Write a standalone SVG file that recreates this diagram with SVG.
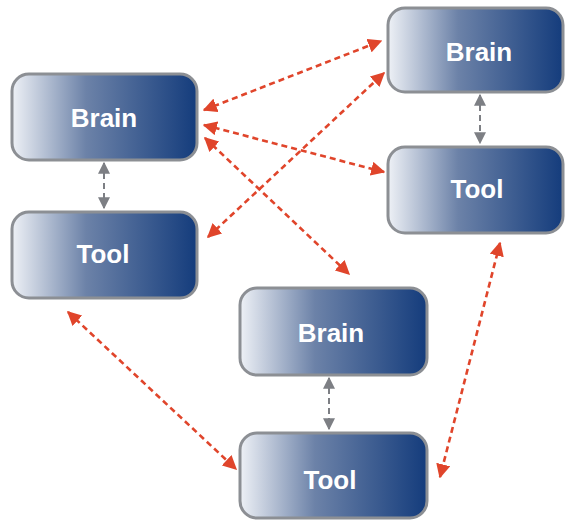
<svg xmlns="http://www.w3.org/2000/svg" width="566" height="524" viewBox="0 0 566 524">
  <style>
    .box { fill: url(#boxFill); stroke: #8c8f94; stroke-width: 3; }
    .label { font-family: "Liberation Sans", Arial, sans-serif; font-weight: bold; font-size: 26px; fill: #ffffff; text-anchor: middle; }
    .link { stroke: #e0452b; stroke-width: 2.6; stroke-dasharray: 6 4; fill: none; marker-start: url(#redHead); marker-end: url(#redHead); }
    .pair { stroke: #7d7f84; stroke-width: 2; stroke-dasharray: 6 4; fill: none; marker-start: url(#grayHead); marker-end: url(#grayHead); }
  </style>
  <defs>
    <linearGradient id="boxFill" x1="0" y1="0" x2="1" y2="0">
      <stop offset="0" stop-color="#eef1f6"/>
      <stop offset="0.4" stop-color="#6c82a8"/>
      <stop offset="1" stop-color="#143c7c"/>
    </linearGradient>
    <marker id="redHead" viewBox="0 0 10 10" refX="9" refY="5" markerWidth="5.5" markerHeight="5.5" orient="auto-start-reverse" markerUnits="strokeWidth">
      <path d="M0,0 L10,5 L0,10 z" fill="#e0452b"/>
    </marker>
    <marker id="grayHead" viewBox="0 0 10 10" refX="9" refY="5" markerWidth="6" markerHeight="6" orient="auto-start-reverse" markerUnits="strokeWidth">
      <path d="M0,0 L10,5 L0,10 z" fill="#7d7f84"/>
    </marker>
  </defs>

  <rect width="566" height="524" fill="#ffffff"/>

  <!-- connectors -->
  <g id="connectors">
    <line class="link" x1="204" y1="110" x2="381" y2="41"/>
    <line class="link" x1="204" y1="125" x2="384" y2="172"/>
    <line class="link" x1="205" y1="138" x2="349" y2="274"/>
    <line class="link" x1="208" y1="237" x2="384" y2="73"/>
    <line class="link" x1="68" y1="312" x2="236" y2="469"/>
    <line class="link" x1="500" y1="243" x2="440" y2="477"/>
    <line class="pair" x1="104" y1="163" x2="104" y2="208"/>
    <line class="pair" x1="480" y1="95" x2="480" y2="143"/>
    <line class="pair" x1="329" y1="378" x2="329" y2="429"/>
  </g>

  <!-- left pair -->
  <g id="brain-left">
    <rect class="box" x="12" y="74" width="185" height="86" rx="17"/>
    <text class="label" x="104" y="127">Brain</text>
  </g>
  <g id="tool-left">
    <rect class="box" x="12" y="212" width="185" height="86" rx="17"/>
    <text class="label" x="103" y="263">Tool</text>
  </g>

  <!-- right pair -->
  <g id="brain-right">
    <rect class="box" x="388" y="8" width="175" height="84" rx="17"/>
    <text class="label" x="479" y="61">Brain</text>
  </g>
  <g id="tool-right">
    <rect class="box" x="388" y="147" width="175" height="86" rx="17"/>
    <text class="label" x="477" y="198">Tool</text>
  </g>

  <!-- bottom pair -->
  <g id="brain-bottom">
    <rect class="box" x="240" y="288" width="187" height="87" rx="17"/>
    <text class="label" x="331" y="342">Brain</text>
  </g>
  <g id="tool-bottom">
    <rect class="box" x="240" y="433" width="187" height="85" rx="17"/>
    <text class="label" x="330" y="489">Tool</text>
  </g>
</svg>
